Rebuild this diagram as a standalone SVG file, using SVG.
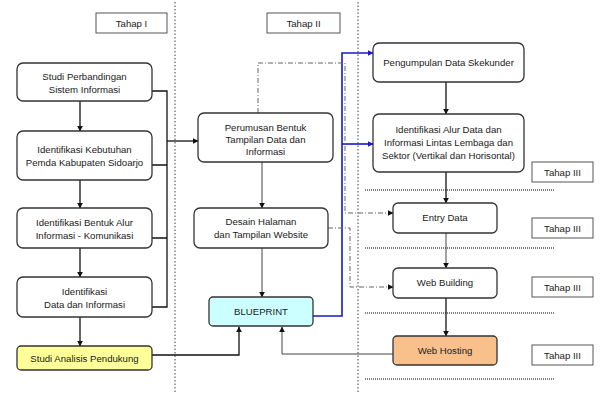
<svg xmlns="http://www.w3.org/2000/svg" width="607" height="394" viewBox="0 0 607 394">
<defs>
<marker id="ah" viewBox="0 0 10 10" refX="9" refY="5" markerWidth="6" markerHeight="6" markerUnits="userSpaceOnUse" orient="auto"><path d="M0,0 L10,5 L0,10 z" fill="#111"/></marker>
<marker id="ahb" viewBox="0 0 10 10" refX="9" refY="5" markerWidth="6" markerHeight="6" markerUnits="userSpaceOnUse" orient="auto"><path d="M0,0 L10,5 L0,10 z" fill="#1a1acc"/></marker>
<style>
.box{fill:#fff;stroke:#333;stroke-width:1.3}
.tab{fill:#fff;stroke:#555;stroke-width:1}
.t{font-family:"Liberation Sans",Arial,sans-serif;font-size:9.6px;fill:#1a1a1a;text-anchor:middle}
.ln{fill:none;stroke:#111;stroke-width:1.3}
.thin{fill:none;stroke:#444;stroke-width:1}
.blue{fill:none;stroke:#1a1acc;stroke-width:1.6}
.dd{fill:none;stroke:#666;stroke-width:1;stroke-dasharray:5 2 1 2}
.vdot{fill:none;stroke:#888;stroke-width:1.6;stroke-dasharray:1.5 2}
.hdot{fill:none;stroke:#555;stroke-width:1.6;stroke-dasharray:1 1}
</style>
</defs>
<rect width="607" height="394" fill="#fff"/>
<g id="separators">
<line class="vdot" x1="175" y1="2" x2="175" y2="394"/>
<line class="vdot" x1="358" y1="2" x2="358" y2="394"/>
<line class="hdot" x1="365" y1="190" x2="555" y2="190"/>
<line class="hdot" x1="365" y1="248" x2="555" y2="248"/>
<line class="hdot" x1="365" y1="313" x2="555" y2="313"/>
<line class="hdot" x1="365" y1="379" x2="555" y2="379"/>
</g>
<g id="connectors">
<line class="ln" x1="80" y1="101" x2="80" y2="131" marker-end="url(#ah)"/>
<line class="ln" x1="80" y1="180" x2="80" y2="208" marker-end="url(#ah)"/>
<line class="ln" x1="80" y1="248" x2="80" y2="277" marker-end="url(#ah)"/>
<line class="ln" x1="80" y1="317" x2="80" y2="346" marker-end="url(#ah)"/>
<path class="ln" d="M152,91 H167 V307 H152 M152,165 H167 M152,238 H167"/>
<line class="ln" x1="167" y1="141" x2="198" y2="141" marker-end="url(#ah)"/>
<path class="ln" d="M152,355 H239 V327" marker-end="url(#ah)"/>
<line class="thin" x1="262" y1="162" x2="262" y2="208" marker-end="url(#ah)"/>
<line class="thin" x1="262" y1="248" x2="262" y2="297" marker-end="url(#ah)"/>
<path class="thin" d="M393,354 H282 V327" marker-end="url(#ah)"/>
<path class="blue" d="M313,316 H342 V53 H373" marker-end="url(#ahb)"/>
<line class="blue" x1="342" y1="144" x2="373" y2="144" marker-end="url(#ahb)"/>
<path class="dd" d="M258,113 V63 H345 V213 H393" marker-end="url(#ah)"/>
<path class="dd" d="M328,228 H350 V287 H393" marker-end="url(#ah)"/>
<line class="ln" x1="446" y1="82" x2="446" y2="114" marker-end="url(#ah)"/>
<line class="ln" x1="446" y1="172" x2="446" y2="203" marker-end="url(#ah)"/>
<line class="thin" x1="446" y1="233" x2="446" y2="268" marker-end="url(#ah)"/>
<line class="ln" x1="446" y1="298" x2="446" y2="336" marker-end="url(#ah)"/>
</g>
<g id="tahap1"><rect class="tab" x="96" y="13" width="71" height="20"/><text class="t" x="131.5" y="27">Tahap I</text></g>
<g id="tahap2"><rect class="tab" x="267" y="13" width="73" height="20"/><text class="t" x="303.5" y="27">Tahap II</text></g>
<g id="tahap3a"><rect class="tab" x="532" y="162" width="61" height="20"/><text class="t" x="562.5" y="176">Tahap III</text></g>
<g id="tahap3b"><rect class="tab" x="532" y="218" width="61" height="20"/><text class="t" x="562.5" y="232">Tahap III</text></g>
<g id="tahap3c"><rect class="tab" x="532" y="277" width="61" height="20"/><text class="t" x="562.5" y="291">Tahap III</text></g>
<g id="tahap3d"><rect class="tab" x="532" y="345" width="61" height="20"/><text class="t" x="562.5" y="359">Tahap III</text></g>
<g id="studi-perbandingan"><rect class="box" x="17" y="63" width="135" height="38" rx="6"/><text class="t" x="84.5" y="80">Studi Perbandingan</text><text class="t" x="84.5" y="93">Sistem Informasi</text></g>
<g id="identifikasi-kebutuhan"><rect class="box" x="17" y="131" width="135" height="49" rx="6"/><text class="t" x="84.5" y="153">Identifikasi Kebutuhan</text><text class="t" x="84.5" y="166">Pemda Kabupaten Sidoarjo</text></g>
<g id="identifikasi-bentuk"><rect class="box" x="17" y="208" width="135" height="40" rx="6"/><text class="t" x="84.5" y="226">Identifikasi Bentuk Alur</text><text class="t" x="84.5" y="239">Informasi - Komunikasi</text></g>
<g id="identifikasi-data"><rect class="box" x="17" y="277" width="135" height="40" rx="6"/><text class="t" x="84.5" y="295">Identifikasi</text><text class="t" x="84.5" y="308">Data dan Informasi</text></g>
<g id="studi-analisis"><rect class="box" x="17" y="346" width="135" height="24" rx="4" style="fill:#ffff99"/><text class="t" x="84.5" y="362">Studi Analisis Pendukung</text></g>
<g id="perumusan"><rect class="box" x="198" y="113" width="135" height="49" rx="6"/><text class="t" x="265.5" y="131">Perumusan Bentuk</text><text class="t" x="265.5" y="143">Tampilan Data dan</text><text class="t" x="265.5" y="155">Informasi</text></g>
<g id="desain"><rect class="box" x="194" y="208" width="134" height="40" rx="6"/><text class="t" x="261" y="225">Desain Halaman</text><text class="t" x="261" y="238">dan Tampilan Website</text></g>
<g id="blueprint"><rect class="box" x="209" y="297" width="104" height="29" rx="4" style="fill:#ccffff"/><text class="t" x="261" y="315">BLUEPRINT</text></g>
<g id="pengumpulan"><rect class="box" x="373" y="43" width="151" height="39" rx="6"/><text class="t" x="448.5" y="66">Pengumpulan Data Skekunder</text></g>
<g id="identifikasi-alur"><rect class="box" x="373" y="114" width="151" height="58" rx="6"/><text class="t" x="448.5" y="133">Identifikasi Alur Data dan</text><text class="t" x="448.5" y="146">Informasi Lintas Lembaga dan</text><text class="t" x="448.5" y="159">Sektor (Vertikal dan Horisontal)</text></g>
<g id="entry-data"><rect class="box" x="393" y="203" width="104" height="30" rx="5"/><text class="t" x="445" y="221">Entry Data</text></g>
<g id="web-building"><rect class="box" x="393" y="268" width="104" height="30" rx="5"/><text class="t" x="445" y="286">Web Building</text></g>
<g id="web-hosting"><rect class="box" x="393" y="336" width="104" height="29" rx="4" style="fill:#f9c08c"/><text class="t" x="445" y="354">Web Hosting</text></g>
</svg>
